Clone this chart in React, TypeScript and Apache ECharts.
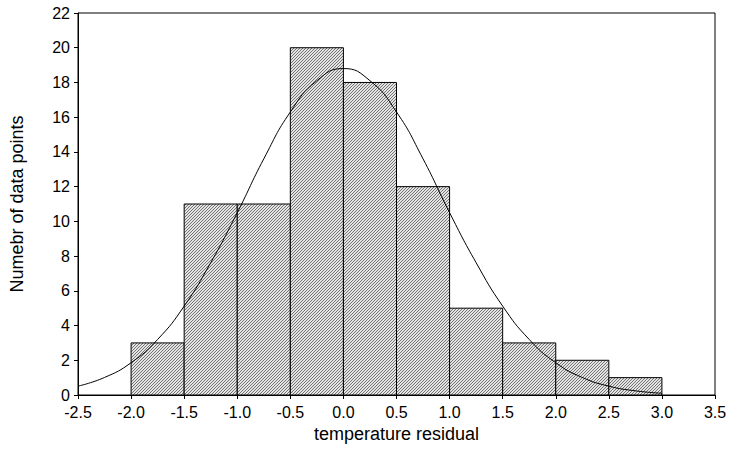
import React, { useEffect, useRef } from 'react';
import * as echarts from 'echarts';

const binStarts = [-2.0, -1.5, -1.0, -0.5, 0.0, 0.5, 1.0, 1.5, 2.0, 2.5];
const binWidth = 0.5;
const counts = [3, 11, 11, 20, 18, 12, 5, 3, 2, 1];

const curveX = [-2.5, -2.25, -2.0, -1.75, -1.5, -1.25, -1.0, -0.75, -0.5, -0.25, 0.0, 0.25, 0.5, 0.75, 1.0, 1.25, 1.5, 1.75, 2.0, 2.25, 2.5, 2.75, 3.0];
const curveY = [0.51, 1.01, 1.86, 3.2, 5.12, 7.62, 10.5, 13.6, 16.3, 18.1, 18.8, 18.1, 16.3, 13.6, 10.5, 7.62, 5.12, 3.2, 1.86, 1.01, 0.51, 0.24, 0.1];

function makeHatch(): HTMLCanvasElement {
    const c = document.createElement('canvas');
    c.width = 3;
    c.height = 3;
    const ctx = c.getContext('2d')!;
    ctx.fillStyle = '#e4e4e4';
    ctx.fillRect(0, 0, 3, 3);
    ctx.strokeStyle = '#555';
    ctx.lineWidth = 0.8;
    ctx.beginPath();
    ctx.moveTo(0, 3);
    ctx.lineTo(3, 0);
    ctx.moveTo(-1, 1);
    ctx.lineTo(1, -1);
    ctx.moveTo(2, 4);
    ctx.lineTo(4, 2);
    ctx.stroke();
    return c;
}

const App: React.FC = () => {
    const chartRef = useRef<HTMLDivElement>(null);

    useEffect(() => {
        document.body.style.margin = '0';
        const chartDom = chartRef.current!;
        const myChart = echarts.init(chartDom, undefined, { renderer: 'svg' });
        const font = 'Arial, "Liberation Sans", sans-serif';
        const hatch = makeHatch();

        const option: echarts.EChartsOption = {
            animation: false,
            backgroundColor: '#fff',
            grid: { left: 77, right: 15, top: 13, bottom: 70, show: true, borderColor: '#000', borderWidth: 1 },
            xAxis: {
                type: 'value', min: -2.5, max: 3.5, interval: 0.5,
                name: 'temperature residual', nameLocation: 'middle', nameGap: 22,
                nameTextStyle: { fontFamily: font, fontSize: 18, color: '#000' },
                axisLine: { onZero: false, lineStyle: { color: '#000' } },
                axisTick: { lineStyle: { color: '#000' }, length: 4 },
                axisLabel: { fontFamily: font, fontSize: 16, color: '#000', margin: 9, formatter: (v: number) => v.toFixed(1) },
                splitLine: { show: false },
            },
            yAxis: {
                type: 'value', min: 0, max: 22, interval: 2,
                name: 'Numebr of data points', nameLocation: 'middle', nameGap: 52,
                nameTextStyle: { fontFamily: font, fontSize: 18, color: '#000' },
                axisLine: { show: true, onZero: false, lineStyle: { color: '#000' } },
                axisTick: { show: true, lineStyle: { color: '#000' }, length: 4 },
                axisLabel: { fontFamily: font, fontSize: 16, color: '#000' },
                splitLine: { show: false },
            },
            series: [
                {
                    type: 'custom',
                    data: binStarts.map((s, i) => [s, counts[i]]),
                    renderItem: (params: any, api: any) => {
                        const x0 = api.value(0);
                        const h = api.value(1);
                        const p0 = api.coord([x0, 0]);
                        const p1 = api.coord([x0 + binWidth, h]);
                        return {
                            type: 'rect',
                            shape: { x: p0[0], y: p1[1], width: p1[0] - p0[0], height: p0[1] - p1[1] },
                            style: { fill: { image: hatch, repeat: 'repeat' } as any, stroke: '#000', lineWidth: 1 },
                        };
                    },
                    z: 1,
                },
                {
                    type: 'line',
                    data: curveX.map((x, i) => [x, curveY[i]]),
                    smooth: true,
                    showSymbol: false,
                    lineStyle: { color: '#000', width: 1 },
                    z: 2,
                },
            ],
        };

        myChart.setOption(option);
        return () => {
            myChart.dispose();
        };
    }, []);

    return <div ref={chartRef} style={{ width: 730, height: 465 }} />;
};

export default App;
